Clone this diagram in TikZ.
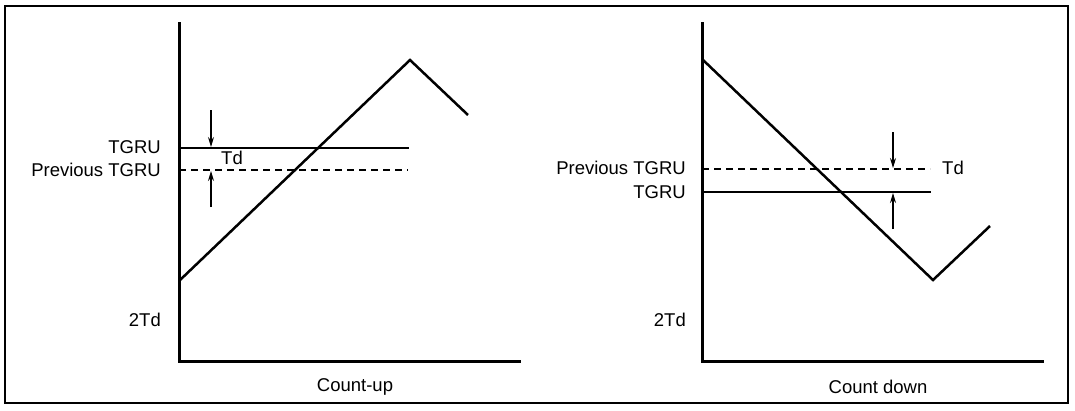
\documentclass[tikz,border=0pt]{standalone}
\usepackage{fontspec}
\setmainfont{Liberation Sans}
\usetikzlibrary{arrows.meta}
\begin{document}
\begin{tikzpicture}[x=1pt,y=-1pt,
  lbl/.style={font=\fontsize{18.5}{18.5}\selectfont, inner sep=0pt},
  axis/.style={line width=3pt},
  ramp/.style={line width=2.5pt, line join=miter},
  lvl/.style={line width=2.5pt},
  lvldash/.style={line width=2.5pt, dash pattern=on 7pt off 5pt},
  marker/.style={line width=1.1pt, -{Stealth[length=10pt,width=6pt]}},
  frame/.style={line width=2pt}]
\useasboundingbox (0,0) rectangle (1075,410);
\fill[white] (0,0) rectangle (1075,410);
\draw[frame] (5,6) rectangle (1068,403);

% ---- left panel: count-up
\draw[axis] (179,22) -- (179,361) -- (521,361);
\draw[lvl] (179,148) -- (409,148);
\draw[lvldash] (179,170) -- (408,170);
\draw[ramp] (179,281) -- (410,60) -- (468,115);
\draw[marker] (211,110) -- (211,147);
\draw[marker] (211,207) -- (211,171);
\node[lbl, anchor=west] (tdL) at (221,158) {Td};
\node[lbl, anchor=east] (tgruL) at (161,147) {TGRU};
\node[lbl, anchor=east] (prevL) at (161,170) {Previous TGRU};
\node[lbl, anchor=east] (twotdL) at (161,320) {2Td};
\node[lbl] (cu) at (355,387) {Count-up};

% ---- right panel: count down
\draw[axis] (702,22) -- (702,361) -- (1044,361);
\draw[lvldash] (702,169) -- (930,169);
\draw[lvl] (702,192) -- (931,192);
\draw[ramp] (702,59) -- (933,280) -- (990,226);
\draw[marker] (893,132) -- (893,168);
\draw[marker] (893,229) -- (893,193);
\node[lbl, anchor=west] (tdR) at (942,168) {Td};
\node[lbl, anchor=east] (prevR) at (686,168) {Previous TGRU};
\node[lbl, anchor=east] (tgruR) at (686,192) {TGRU};
\node[lbl, anchor=east] (twotdR) at (686,320) {2Td};
\node[lbl] (cd) at (878,387) {Count down};
\end{tikzpicture}
\end{document}
